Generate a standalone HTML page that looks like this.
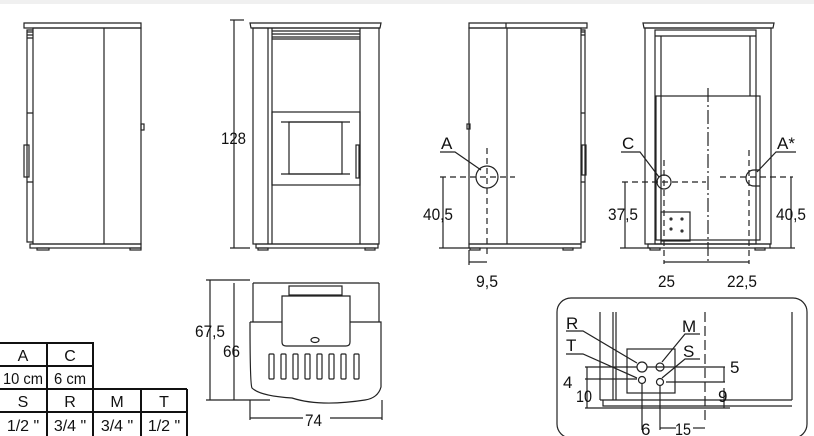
<!DOCTYPE html>
<html><head><meta charset="utf-8"><style>
body{margin:0;background:#fff}
svg{display:block}
text{font-family:"Liberation Sans",sans-serif;fill:#111}
</style></head><body>
<svg width="814" height="436" viewBox="0 0 814 436" xmlns="http://www.w3.org/2000/svg">
<rect x="0" y="0" width="814" height="4" fill="#f0f0f0"/>
<g fill="none" stroke="#222" stroke-width="1.2">
<!-- View 1 -->
<path d="M24 23 H141 V28 H24 Z"/>
<rect x="33" y="28" width="108" height="216"/>
<line x1="104" y1="28" x2="104" y2="244"/>
<path d="M33 30 H27 V242 H33"/>
<path d="M27 32 H33 M27 35 H33 M27 38 H33 M27 113 H33 M27 182 H33"/>
<rect x="24" y="145" width="5" height="32"/>
<rect x="141" y="124" width="3" height="6"/>
<rect x="30" y="244" width="111" height="4"/>
<rect x="37" y="248" width="12" height="2"/><rect x="130" y="248" width="11" height="2"/>
<!-- View 2 -->
<line x1="234" y1="20" x2="234" y2="248"/>
<line x1="230" y1="20" x2="244" y2="20"/><line x1="230" y1="248" x2="250" y2="248"/>
<path d="M250 23 H381 L380 28 H251 Z"/>
<rect x="253" y="28" width="126" height="216"/>
<line x1="268" y1="28" x2="268" y2="244"/><line x1="272" y1="28" x2="272" y2="244"/>
<line x1="360" y1="28" x2="360" y2="244"/>
<path d="M272 31 H360 M272 34 H360 M272 37 H360 M272 39 H360"/>
<rect x="272" y="112" width="88" height="73"/>
<path d="M281 122 H350 M281 174 H350"/>
<rect x="289" y="122" width="53" height="52"/>
<rect x="356" y="145" width="3" height="33"/>
<rect x="256" y="244" width="122" height="4"/>
<rect x="258" y="248" width="10" height="2"/><rect x="365" y="248" width="10" height="2"/>
<!-- View 3 -->
<path d="M469 23 H587 V28 H469 Z"/><line x1="506" y1="23" x2="506" y2="28"/>
<rect x="469" y="28" width="112" height="216"/>
<line x1="507" y1="28" x2="507" y2="244"/>
<path d="M581 30 H585 V242 H581 M581 32 H585 M581 35 H585 M581 113 H585 M581 182 H585"/>
<rect x="582" y="145" width="4" height="30"/>
<rect x="467" y="124" width="3" height="5"/>
<rect x="469" y="244" width="112" height="4"/>
<rect x="470" y="248" width="10" height="2"/><rect x="563" y="248" width="10" height="2"/>
<circle cx="487" cy="177" r="11"/>
<line x1="440" y1="177" x2="515" y2="177" stroke-dasharray="6,4"/>
<line x1="487" y1="148" x2="487" y2="258" stroke-dasharray="6,4"/>
<path d="M440 152 H455 L481 170"/>
<line x1="443" y1="177" x2="443" y2="248"/><line x1="439" y1="248" x2="469" y2="248"/>
<line x1="469" y1="250" x2="469" y2="265"/>
<line x1="469" y1="262" x2="487" y2="262"/>
<!-- View 4 -->
<path d="M643 23 H774 L773 28 H644 Z"/>
<rect x="645" y="28" width="126" height="216"/>
<rect x="655" y="30" width="101" height="214"/>
<line x1="661" y1="36" x2="661" y2="244"/><line x1="750" y1="36" x2="750" y2="96"/>
<line x1="655" y1="36" x2="756" y2="36"/>
<rect x="656" y="96" width="104" height="144"/>
<line x1="708" y1="88" x2="708" y2="264" stroke-dasharray="14,3,2,3"/>
<circle cx="664" cy="182" r="7"/>
<path d="M760 170 H754 A8 8 0 0 0 754 186 H760"/>
<line x1="622" y1="182" x2="706" y2="182" stroke-dasharray="6,4"/>
<line x1="720" y1="177" x2="793" y2="177" stroke-dasharray="6,4"/>
<line x1="664" y1="160" x2="664" y2="264" stroke-dasharray="6,4"/>
<line x1="749" y1="150" x2="749" y2="264" stroke-dasharray="6,4"/>
<path d="M621 152 H640 L659 177"/>
<path d="M796 152 H776 L757 172"/>
<rect x="661" y="212" width="29" height="29"/>
<line x1="625" y1="182" x2="625" y2="248"/><line x1="620" y1="248" x2="650" y2="248"/>
<line x1="791" y1="177" x2="791" y2="248"/><line x1="770" y1="248" x2="795" y2="248"/>
<line x1="664" y1="262" x2="749" y2="262"/>
<rect x="648" y="244" width="122" height="4"/>
<rect x="650" y="248" width="10" height="2"/><rect x="755" y="248" width="10" height="2"/>
<!-- Top view -->
<line x1="210" y1="280" x2="210" y2="400"/><line x1="206" y1="280" x2="250" y2="280"/>
<line x1="234" y1="283" x2="234" y2="400"/><line x1="206" y1="400" x2="270" y2="400"/>
<path d="M253 283 V322 M379 283 V322 M253 283 H379"/>
<rect x="289" y="286" width="53" height="9"/>
<path d="M282 296 H350 V342 Q350 346 346 346 H286 Q282 346 282 342 Z"/>
<ellipse cx="315" cy="340" rx="4" ry="2.5"/>
<path d="M250 322 H282 M350 322 H381 V387 Q378 398 365 400 Q320 407 292 398 Q260 396 252 388 Q250 385 250 322"/>
<g>
<rect x="269" y="354" width="5" height="25" rx="1"/><rect x="281" y="354" width="5" height="25" rx="1"/>
<rect x="293" y="354" width="5" height="25" rx="1"/><rect x="305" y="354" width="5" height="25" rx="1"/>
<rect x="317" y="354" width="5" height="25" rx="1"/><rect x="329" y="354" width="5" height="25" rx="1"/>
<rect x="341" y="354" width="5" height="25" rx="1"/><rect x="354" y="354" width="5" height="25" rx="1"/>
</g>
<line x1="250" y1="400" x2="250" y2="420"/><line x1="382" y1="400" x2="382" y2="420"/>
<line x1="250" y1="418" x2="303" y2="418"/><line x1="330" y1="418" x2="382" y2="418"/>
<!-- Detail -->
<rect x="557" y="298" width="250" height="140" rx="14"/>
<line x1="600" y1="312" x2="600" y2="400"/><line x1="613" y1="312" x2="613" y2="400"/><line x1="616" y1="312" x2="616" y2="400"/>
<line x1="792" y1="312" x2="792" y2="400"/>
<rect x="627" y="349" width="48" height="44"/>
<line x1="705" y1="312" x2="705" y2="424" stroke-dasharray="10,4"/>
<path d="M600 400 H792 M603 400 V406 H792 M604 406 H612 M630 406 H792"/>
<circle cx="642" cy="367" r="5"/><circle cx="660" cy="367" r="4"/>
<circle cx="642" cy="380" r="3.5"/><circle cx="660" cy="382" r="3.5"/>
<path d="M566 331 H583 L637 363"/><path d="M566 354 H583 L637 378"/>
<path d="M700 334 H685 L662 362"/><path d="M700 359 H685 L662 378"/>
<path d="M585 367 H637 M647 367 H725 M585 379 H637 M666 382 H725"/>
<line x1="587" y1="367" x2="587" y2="408"/><line x1="724" y1="367" x2="724" y2="382"/>
<line x1="724" y1="388" x2="724" y2="408"/><line x1="585" y1="408" x2="730" y2="408"/>
<line x1="642" y1="383" x2="642" y2="430"/><line x1="660" y1="386" x2="660" y2="430"/>
<line x1="660" y1="428" x2="676" y2="428"/><line x1="693" y1="428" x2="705" y2="428"/>
</g>
<g fill="#333"><circle cx="671" cy="219" r="1.6"/><circle cx="682" cy="219" r="1.6"/><circle cx="671" cy="229" r="1.6"/><circle cx="682" cy="231" r="1.6"/></g>
<!-- Labels -->
<g font-size="17">
<text x="221" y="144" textLength="25" lengthAdjust="spacingAndGlyphs">128</text>
<text x="441" y="149">A</text>
<text x="423" y="220" textLength="30" lengthAdjust="spacingAndGlyphs">40,5</text>
<text x="476" y="287" textLength="22" lengthAdjust="spacingAndGlyphs">9,5</text>
<text x="622" y="149">C</text>
<text x="777" y="149">A*</text>
<text x="608" y="220" textLength="30" lengthAdjust="spacingAndGlyphs">37,5</text>
<text x="776" y="220" textLength="30" lengthAdjust="spacingAndGlyphs">40,5</text>
<text x="658" y="287" textLength="17" lengthAdjust="spacingAndGlyphs">25</text>
<text x="727" y="287" textLength="30" lengthAdjust="spacingAndGlyphs">22,5</text>
<text x="195" y="337" textLength="30" lengthAdjust="spacingAndGlyphs">67,5</text>
<text x="223" y="357" textLength="17" lengthAdjust="spacingAndGlyphs">66</text>
<text x="305" y="426" textLength="17" lengthAdjust="spacingAndGlyphs">74</text>
<text x="566" y="329">R</text><text x="566" y="351">T</text>
<text x="682" y="332">M</text><text x="683" y="357">S</text>
<text x="730" y="373">5</text><text x="563" y="388">4</text>
<text x="576" y="402" textLength="16" lengthAdjust="spacingAndGlyphs">10</text><text x="718" y="402">9</text>
<text x="641" y="435">6</text><text x="675" y="435" textLength="16" lengthAdjust="spacingAndGlyphs">15</text>
</g>
<!-- Table -->
<g fill="none" stroke="#111" stroke-width="2">
<path d="M0 343 H93 V436 M47 343 V436 M0 366 H93 M0 389 H187 M141 389 V436 M187 389 V436 M0 412 H187"/>
</g>
<g font-size="16" text-anchor="middle">
<text x="23" y="361">A</text><text x="70" y="361">C</text>
<text x="23" y="384" textLength="40" lengthAdjust="spacingAndGlyphs">10 cm</text><text x="70" y="384" textLength="32" lengthAdjust="spacingAndGlyphs">6 cm</text>
<text x="23" y="407">S</text><text x="70" y="407">R</text><text x="117" y="407">M</text><text x="164" y="407">T</text>
<text x="23" y="431">1/2 "</text><text x="70" y="431">3/4 "</text><text x="117" y="431">3/4 "</text><text x="164" y="431">1/2 "</text>
</g>
</svg>
</body></html>
